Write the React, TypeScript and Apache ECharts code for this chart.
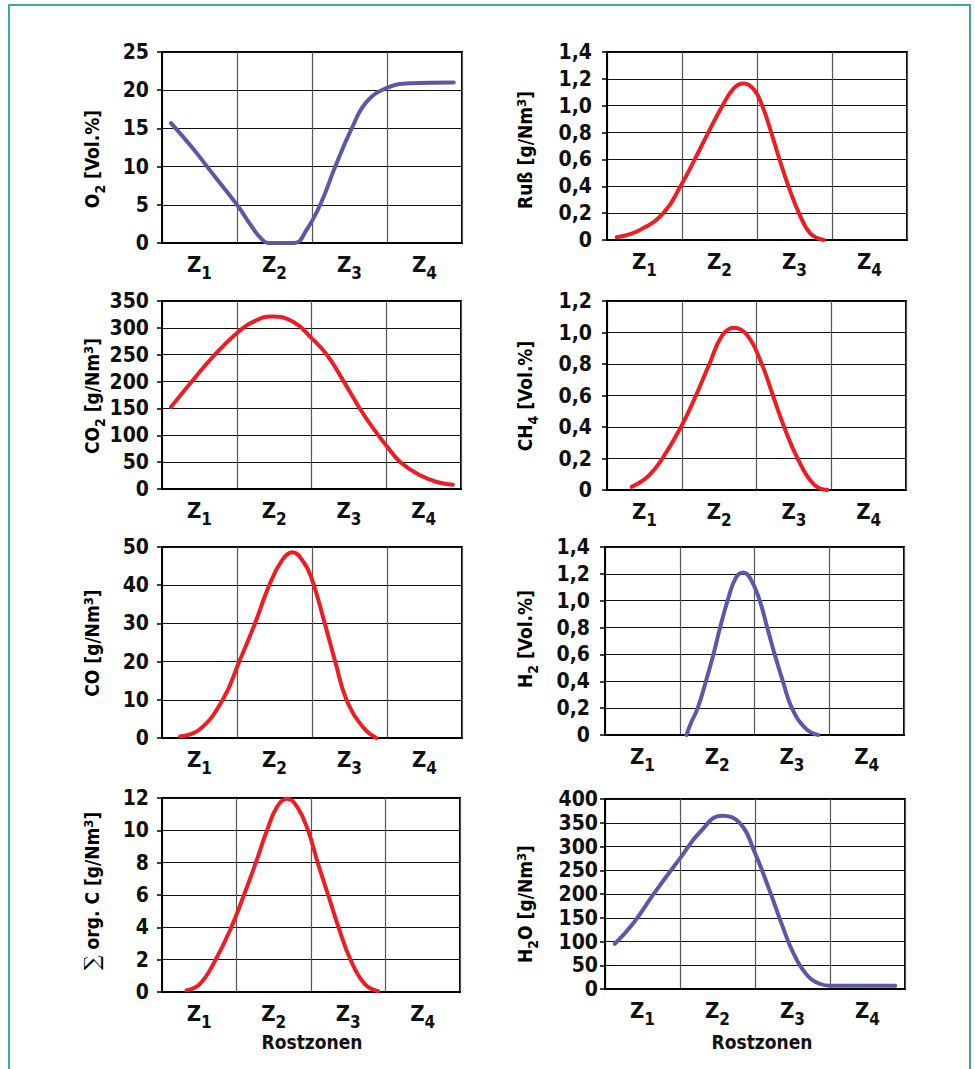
import React, { useEffect, useRef } from "react";
import * as echarts from "echarts";

// ---- data (x in zone units 0..4, y in axis units) ----
const ZONES = ["1", "2", "3", "4"];

const O2_DATA = [
  [0.12, 15.7], [0.41, 12.4], [0.68, 9.0], [1.0, 5.0], [1.21, 1.96], [1.33, 0.5], [1.415, 0],
  [1.52, 0], [1.65, 0], [1.77, 0], [1.93, 1.75], [2.11, 5.0], [2.31, 10], [2.53, 15],
  [2.73, 18.5], [3.0, 20.3], [3.31, 20.9], [3.89, 21.0],
];
const RUSS_DATA = [
  [0.13, 0.02], [0.44, 0.075], [0.75, 0.2], [0.98, 0.4], [1.17, 0.6], [1.35, 0.8], [1.54, 1.0],
  [1.69, 1.13], [1.82, 1.165], [1.96, 1.12], [2.07, 1.0], [2.19, 0.8], [2.3, 0.6], [2.42, 0.4],
  [2.56, 0.2], [2.71, 0.05], [2.89, 0],
];
const CO2_DATA = [
  [0.12, 152.6], [0.41, 202], [0.68, 246], [1.0, 290], [1.26, 314], [1.47, 321], [1.76, 311],
  [2.0, 281], [2.21, 249], [2.41, 205], [2.65, 149], [2.83, 112], [3.0, 81], [3.19, 50],
  [3.46, 25], [3.69, 12.5], [3.89, 8],
];
const CH4_DATA = [
  [0.33, 0.02], [0.55, 0.087], [0.74, 0.2], [0.99, 0.4], [1.19, 0.6], [1.37, 0.8], [1.54, 0.98],
  [1.7, 1.03], [1.88, 0.98], [2.07, 0.8], [2.22, 0.6], [2.37, 0.4], [2.55, 0.2], [2.77, 0.034], [2.95, 0],
];
const CO_DATA = [
  [0.24, 0.4], [0.5, 2.2], [0.81, 10], [1.03, 20], [1.24, 30], [1.43, 40], [1.6, 46.5], [1.74, 48.6],
  [1.89, 46], [2.0, 41.5], [2.17, 30], [2.31, 20], [2.46, 10], [2.69, 2.6], [2.86, 0],
];
const H2_DATA = [
  [1.09, 0], [1.15, 0.09], [1.24, 0.2], [1.35, 0.4], [1.45, 0.6], [1.54, 0.8], [1.64, 1.0],
  [1.75, 1.17], [1.85, 1.21], [1.95, 1.16], [2.07, 1.0], [2.17, 0.8], [2.27, 0.6], [2.38, 0.4],
  [2.5, 0.2], [2.69, 0.045], [2.85, 0],
];
const ORGC_DATA = [
  [0.33, 0.1], [0.51, 0.5], [0.72, 2.0], [0.93, 4.0], [1.1, 6.0], [1.26, 8.0], [1.41, 10.0],
  [1.55, 11.5], [1.68, 11.95], [1.82, 11.4], [1.96, 10.0], [2.09, 8.0], [2.23, 6.0], [2.37, 4.0],
  [2.53, 2.0], [2.72, 0.5], [2.9, 0.05],
];
const H2O_DATA = [
  [0.13, 95], [0.38, 139], [0.64, 198], [1.0, 275], [1.27, 331], [1.56, 365], [1.8, 349],
  [2.0, 286], [2.2, 205], [2.36, 135], [2.51, 76], [2.69, 30], [2.87, 10.5], [3.0, 7],
  [3.4, 7], [3.87, 7],
];

const Y_MAX = [25, 1.4, 350, 1.2, 50, 1.4, 12, 400];
const Y_INTERVAL = [5, 0.2, 50, 0.2, 10, 0.2, 2, 50];
const Y_DECIMALS = [0, 1, 0, 1, 0, 1, 0, 0];

const RED = "#ee1d23";
const BLUE = "#5b59a7";
const FONT = '"DejaVu Sans Condensed", "Liberation Sans Narrow", sans-serif';

const SERIES = [O2_DATA, RUSS_DATA, CO2_DATA, CH4_DATA, CO_DATA, H2_DATA, ORGC_DATA, H2O_DATA];
const COLORS = [BLUE, RED, RED, RED, RED, BLUE, RED, BLUE];

const NAMES = [
  "{b|O}{sub|2}{b| [Vol.%]}",
  "{b|Ruß [g/Nm}{sup|3}{b|]}",
  "{b|CO}{sub|2}{b| [g/Nm}{sup|3}{b|]}",
  "{b|CH}{sub|4}{b| [Vol.%]}",
  "{b|CO [g/Nm}{sup|3}{b|]}",
  "{b|H}{sub|2}{b| [Vol.%]}",
  "{sig|∑}{b| org. C [g/Nm}{sup|3}{b|]}",
  "{b|H}{sub|2}{b|O [g/Nm}{sup|3}{b|]}",
];

// layout (px)
const GRIDS: [number, number, number, number][] = [
  [162, 52, 300, 191],
  [607, 52, 300, 188],
  [162, 301, 299, 188],
  [607, 301, 299, 189],
  [162, 547, 300, 191],
  [605, 547, 299, 188],
  [162, 798, 298, 194],
  [605, 799, 300, 190],
];
const NAME_POS: [number, number][] = [
  [92, 159], [525, 150], [92, 396], [525, 396], [92, 643], [525, 639], [92, 891], [525, 904],
];
const LABEL_MARGIN = [13, 15, 13, 15, 13, 15, 13, 7];

const TXT = "#111";
const NFS = 19;
const RICH: any = {
  b: { fontSize: NFS, fontWeight: "bold", fontFamily: FONT, color: TXT, lineHeight: 24 },
  sub: { fontSize: 14, fontWeight: "bold", fontFamily: FONT, color: TXT, lineHeight: 8, height: 8, verticalAlign: "bottom" },
  sup: { fontSize: 13, fontWeight: "bold", fontFamily: FONT, color: TXT, lineHeight: 16, height: 16, verticalAlign: "top" },
  sig: { fontSize: 21, fontFamily: "DejaVu Serif, serif", color: TXT, lineHeight: 24 },
};
const ZRICH: any = {
  z: { fontSize: 22, fontWeight: "bold", fontFamily: FONT, color: TXT, lineHeight: 22 },
  s: { fontSize: 17, fontWeight: "bold", fontFamily: FONT, color: TXT, lineHeight: 5, height: 5, verticalAlign: "bottom" },
};

function fmt(v: number, d: number) {
  if (Math.abs(v) < 1e-9) return "0";
  return d > 0 ? v.toFixed(d).replace(".", ",") : String(Math.round(v));
}

export default function App() {
  const ref = useRef<HTMLDivElement>(null);
  useEffect(() => {
    if (!ref.current) return;
    const chart = echarts.init(ref.current, null, { renderer: "svg" });
    const grid: any[] = [];
    const xAxis: any[] = [];
    const yAxis: any[] = [];
    const series: any[] = [];
    const graphic: any[] = [];
    GRIDS.forEach((g, i) => {
      grid.push({
        left: g[0], top: g[1], width: g[2], height: g[3],
        show: true, borderColor: "#000", borderWidth: 2, backgroundColor: "#fff",
      });
      xAxis.push({
        type: "category", gridIndex: i, data: ZONES, boundaryGap: true,
        axisLine: { show: true, lineStyle: { color: "#000", width: 2 } },
        axisTick: { show: false },
        splitLine: { show: true, lineStyle: { color: "#555", width: 1.2 } },
        axisLabel: { margin: 10, formatter: (v: string) => `{z|Z}{s|${v}}`, rich: ZRICH },
      });
      xAxis.push({ type: "value", gridIndex: i, min: 0, max: 4, show: false });
      yAxis.push({
        type: "value", gridIndex: i, min: 0, max: Y_MAX[i], interval: Y_INTERVAL[i],
        axisLine: { show: true, lineStyle: { color: "#000", width: 2 } },
        axisTick: { show: true, length: 5, lineStyle: { color: "#000", width: 1.5 } },
        splitLine: { show: true, lineStyle: { color: "#111", width: 1 } },
        axisLabel: {
          margin: LABEL_MARGIN[i], color: TXT, fontSize: 21, fontWeight: "bold", fontFamily: FONT,
          formatter: (v: number) => fmt(v, Y_DECIMALS[i]),
        },
      });
      series.push({
        type: "line", xAxisIndex: 2 * i + 1, yAxisIndex: i, data: SERIES[i],
        showSymbol: false, smooth: 0.45, clip: false,
        lineStyle: { color: COLORS[i], width: 4, cap: "round", join: "round" },
      });
      graphic.push({
        type: "text", x: NAME_POS[i][0], y: NAME_POS[i][1], rotation: Math.PI / 2,
        style: { text: NAMES[i], rich: RICH, align: "center", verticalAlign: "middle" },
      });
    });
    graphic.push({
      type: "text", x: 312, y: 1042,
      style: { text: "Rostzonen", fontSize: 19, fontWeight: "bold", fontFamily: FONT, fill: TXT, align: "center", verticalAlign: "middle" },
    });
    graphic.push({
      type: "text", x: 762, y: 1042,
      style: { text: "Rostzonen", fontSize: 19, fontWeight: "bold", fontFamily: FONT, fill: TXT, align: "center", verticalAlign: "middle" },
    });
    graphic.push({
      type: "rect", shape: { x: 9, y: 5, width: 961, height: 1080 },
      style: { fill: "none", stroke: "#3ba99d", lineWidth: 2 }, z: -1,
    });
    chart.setOption({ animation: false, backgroundColor: "#fff", grid, xAxis, yAxis, series, graphic });
    return () => chart.dispose();
  }, []);
  return <div ref={ref} style={{ position: "absolute", left: 0, top: 0, width: 975, height: 1069 }} />;
}
